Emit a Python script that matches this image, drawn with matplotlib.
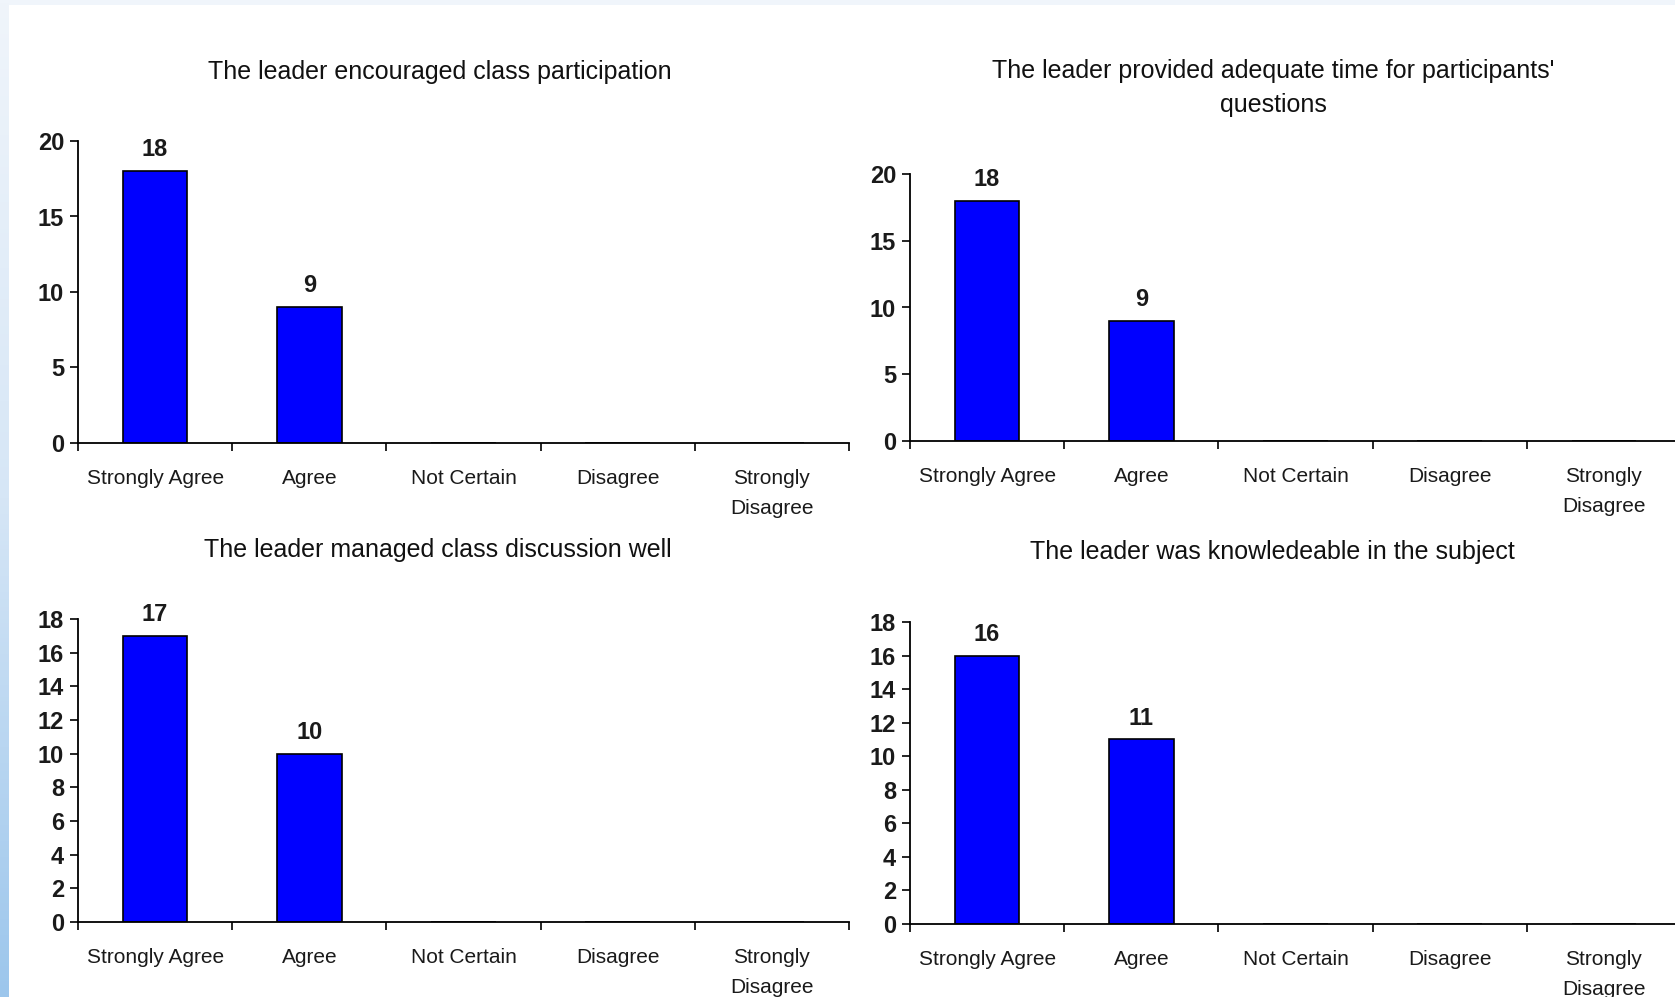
import matplotlib
matplotlib.use("Agg")
import matplotlib.pyplot as plt
from matplotlib.colors import LinearSegmentedColormap
import numpy as np

plt.rcParams['font.family'] = ['Liberation Sans', 'DejaVu Sans']

# Datos de las cuatro gráficas
categorias = ['Strongly Agree', 'Agree', 'Not Certain', 'Disagree', 'Strongly\nDisagree']
titulos = ["The leader encouraged class participation",
           "The leader provided adequate time for participants'\nquestions",
           "The leader managed class discussion well",
           "The leader was knowledeable in the subject"]
participacion = [18, 9, 0, 0, 0]
tiempo_preguntas = [18, 9, 0, 0, 0]
discusion = [17, 10, 0, 0, 0]
conocimiento = [16, 11, 0, 0, 0]
y_maximos = [20, 20, 18, 18]
y_pasos = [5, 5, 2, 2]

series = [participacion, tiempo_preguntas, discusion, conocimiento]

W, H = 1675, 997
fig = plt.figure(figsize=(W / 100, H / 100), dpi=100)
fig.patch.set_facecolor('white')

# Franja azul a la izquierda y franja clara arriba
fondo = fig.add_axes([0, 0, 1, 1], zorder=-10)
fondo.axis('off')
grad = np.linspace(0, 1, 256).reshape(-1, 1)
cmap = LinearSegmentedColormap.from_list('borde', ['#f0f5fb', '#d6e6f6', '#9cc6ec'])
fondo.imshow(grad, cmap=cmap, aspect='auto', extent=[0, 9 / W, 0, 1], origin='upper')
fondo.add_patch(plt.Rectangle((9 / W, 1 - 5 / H), 1, 5 / H, color='#f0f5fb', lw=0))
fondo.set_xlim(0, 1)
fondo.set_ylim(0, 1)

# Posiciones en píxeles: (izquierda, y del cero, y del máximo)
posiciones = [(78, 443, 141), (910, 441, 174), (78, 922, 619), (910, 924, 622)]
ancho_px = 771
centros_titulo = [(440, 72), (1273, 88), (438, 550), (1272, 552)]

for i in range(4):
    izq, y0, ytop = posiciones[i]
    ax = fig.add_axes([izq / W, 1 - y0 / H, ancho_px / W, (y0 - ytop) / H])
    valores = series[i]
    x = np.arange(len(categorias))
    ax.bar(x, valores, width=0.42, color='#0000FF', edgecolor='black', linewidth=1.2)
    for xi, v in zip(x, valores):
        if v > 0:
            ax.annotate(f'{v}', (xi, v), xytext=(0, 7), textcoords='offset points',
                        ha='center', va='bottom', fontsize=17, fontweight='bold', color='#1a1a1a')
    ax.set_xlim(-0.5, len(categorias) - 0.5)
    ax.set_ylim(0, y_maximos[i])
    ax.set_yticks(np.arange(0, y_maximos[i] + 1, y_pasos[i]))
    ax.set_xticks(x)
    ax.set_xticklabels(categorias, fontsize=15, color='#1a1a1a', linespacing=1.7)
    ax.set_xticks(np.arange(-0.5, len(categorias)), minor=True)
    ax.tick_params(axis='x', which='major', length=0, pad=19)
    ax.tick_params(axis='x', which='minor', length=6, width=1.2, direction='out')
    ax.tick_params(axis='y', length=6, width=1.2, direction='out', labelsize=17, pad=4)
    for lab in ax.get_yticklabels():
        lab.set_fontweight('bold')
        lab.set_color('#1a1a1a')
    for s in ['top', 'right']:
        ax.spines[s].set_visible(False)
    ax.spines['left'].set_linewidth(1.3)
    ax.spines['bottom'].set_linewidth(1.3)
    ax.set_facecolor('none')

    cx, cy = centros_titulo[i]
    fig.text(cx / W, 1 - cy / H, titulos[i], ha='center', va='center',
             fontsize=18, color='#111111', linespacing=1.5)

plt.savefig('out.png', dpi=100)
plt.close(fig)
